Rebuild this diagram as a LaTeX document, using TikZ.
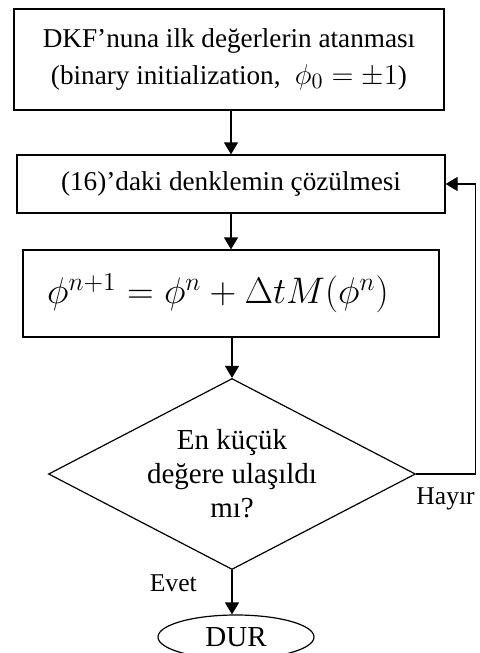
\documentclass[tikz,border=0pt]{standalone}
\usepackage{graphicx}
\usepackage{fontspec}
\setmainfont{Liberation Serif}
\usetikzlibrary{shapes.geometric, arrows.meta, positioning, calc}
\tikzset{
  kutu/.style={rectangle, draw, line width=0.6pt, align=center,
    font=\fontsize{13.6}{18.5}\selectfont},
  karar/.style={diamond, draw, line width=0.6pt, aspect=1.92, inner sep=0pt,
    minimum width=183.5pt, minimum height=95.5pt, align=center,
    font=\fontsize{14.5}{17}\selectfont},
  son/.style={ellipse, draw, line width=0.6pt, inner sep=0pt,
    minimum width=78pt, minimum height=22pt, font=\fontsize{14.5}{16}\selectfont},
  ok/.style={-{Triangle[length=6pt, width=7pt]}, line width=0.6pt},
  etiket/.style={font=\fontsize{12.8}{14}\selectfont}
}

\begin{document}
\begin{tikzpicture}[x=0.5pt, y=-0.5pt]
  \useasboundingbox (0,0) rectangle (479,653);

  % --- Adimlar ---
  \node[kutu, minimum width=215pt, minimum height=50.5pt] (ilk) at (229,59.5)
    {DKF'nuna ilk değerlerin atanması\\(binary initialization, \;{\fontsize{15}{18}\selectfont$\phi_0=\pm1$})};
  \node[kutu, minimum width=214pt, minimum height=29pt] (denklem) at (231,184)
    {(16)'daki denklemin çözülmesi};
  \node[kutu, minimum width=208pt, minimum height=43.5pt] (guncel) at (231,293.5)
    {\fontsize{18}{22}\selectfont\scalebox{1.07}{$\phi^{n+1}=\phi^{n}+\Delta t M(\phi^{n})$}\hspace{13pt}};
  \node[karar] (kontrol) at (232,474) {En küçük\\değere ulaşıldı\\mı?};
  \node[son] (dur) at (236,637) {DUR};

  % --- Oklar ---
  \draw[ok] (ilk.south -| denklem.north) -- (denklem.north);
  \draw[ok] (denklem.south) -- (guncel.north);
  \draw[ok] (guncel.south -| kontrol.north) -- (kontrol.north);
  \draw[ok] (kontrol.south) -- (kontrol.south |- dur.north)
    node[etiket, left=14pt, pos=0.3] {Evet};
  % geri donus (Hayir)
  \draw[ok] (kontrol.east) -- ++(59,0) node[etiket, below=3pt, midway] {Hayır}
    |- (denklem.east);

\end{tikzpicture}
\end{document}
